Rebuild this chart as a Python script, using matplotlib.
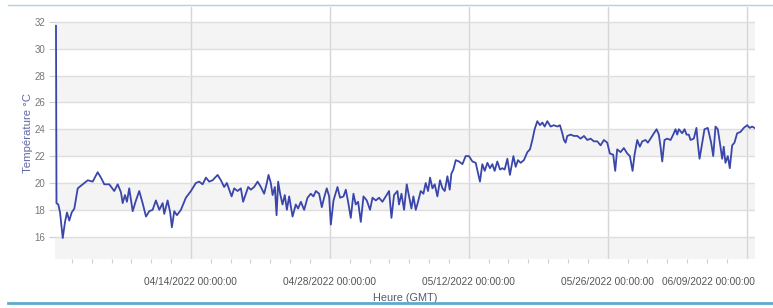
import matplotlib
matplotlib.use("Agg")
import matplotlib.pyplot as plt
import matplotlib.dates as mdates
import matplotlib.transforms as mtransforms
import datetime as dt

plt.rcParams['font.family'] = ['Liberation Sans', 'DejaVu Sans']

# ---- data ----
start = dt.datetime(2022, 3, 31)
days = [0.40, 0.45, 0.63, 0.81, 1.08, 1.31, 1.51, 1.74, 1.98, 2.25, 2.59, 3.09, 3.60, 4.10, 4.60, 4.93,
        5.27, 5.77, 6.27, 6.62, 6.95, 7.12, 7.35, 7.55, 7.78, 8.13, 8.46, 8.79, 9.13, 9.47, 9.80,
        10.14, 10.47, 10.81, 11.15, 11.31, 11.65, 11.91, 12.08, 12.32, 12.59, 12.99, 13.49, 14.00,
        14.50, 14.83, 15.18, 15.51, 15.84, 16.18, 16.69, 17.02, 17.35, 17.62, 17.86, 18.10, 18.36,
        18.70, 19.03, 19.26, 19.54, 19.77, 20.04, 20.37, 20.72, 21.05, 21.38, 21.65, 21.82, 22.05,
        22.23, 22.46, 22.63, 22.79, 22.99, 23.23, 23.46, 23.67, 23.90, 24.24, 24.57, 24.80, 25.08,
        25.41, 25.75, 26.08, 26.35, 26.59, 26.92, 27.19, 27.42, 27.69, 27.93, 28.10, 28.37, 28.77,
        29.03, 29.38, 29.61, 29.84, 30.11, 30.38, 30.61, 30.85, 31.12, 31.39, 31.72, 32.05, 32.30,
        32.63, 32.96, 33.30, 33.64, 33.97, 34.21, 34.47, 34.81, 34.97, 35.22, 35.48, 35.75, 35.98,
        36.22, 36.42, 36.66, 36.89, 37.16, 37.43, 37.66, 37.90, 38.10, 38.34, 38.57, 38.84, 39.10,
        39.35, 39.58, 39.85, 40.08, 40.25, 40.45, 40.69, 41.02, 41.36, 41.69, 42.02, 42.37, 42.70,
        43.13, 43.37, 43.61, 43.88, 44.14, 44.38, 44.61, 44.88, 45.15, 45.39, 45.62, 45.89, 46.15,
        46.50, 46.73, 46.96, 47.23, 47.56, 47.91, 48.17, 48.41, 48.64, 48.91, 49.18, 49.42, 49.65,
        49.92, 50.25, 50.58, 50.93, 51.19, 51.43, 51.59, 51.76, 51.93, 52.27, 52.60, 52.94, 53.27,
        53.61, 53.95, 54.28, 54.61, 54.95, 55.29, 55.62, 55.96, 56.22, 56.56, 56.76, 56.96, 57.30,
        57.63, 57.97, 58.24, 58.51, 58.71, 58.98, 59.24, 59.49, 59.82, 60.05, 60.32, 60.66, 60.93,
        61.16, 61.33, 61.50, 61.73, 62.00, 62.34, 62.61, 62.84, 63.01, 63.17, 63.51, 63.75, 63.95,
        64.18, 64.35, 64.68, 64.95, 65.08, 65.26, 65.53, 65.76, 66.09, 66.43, 66.64, 66.87, 67.10,
        67.37, 67.54, 67.70, 67.87, 68.11, 68.31, 68.55, 68.78, 69.05, 69.39, 69.72, 70.06, 70.32,
        70.56, 70.79]
temps = [31.7, 18.5, 18.4, 17.8, 15.9, 17.1, 17.8, 17.2, 17.8, 18.1, 19.6, 19.9, 20.2, 20.1, 20.8, 20.4,
         19.9, 19.9, 19.4, 19.9, 19.3, 18.5, 19.1, 18.6, 19.6, 17.9, 18.7, 19.4, 18.5, 17.5, 17.9,
         18.0, 18.7, 18.0, 18.5, 17.7, 18.7, 17.8, 16.7, 17.9, 17.6, 18.0, 18.9, 19.4,
         20.0, 20.1, 19.9, 20.4, 20.1, 20.2, 20.6, 20.2, 19.7, 20.0, 19.5, 19.0, 19.6,
         19.4, 19.6, 18.6, 19.2, 19.7, 19.5, 19.7, 20.1, 19.7, 19.2, 20.0, 20.6, 20.0,
         19.1, 19.7, 17.6, 20.1, 19.2, 18.4, 19.1, 18.0, 19.0, 17.5, 18.4, 18.1, 18.6,
         18.0, 18.9, 19.2, 19.0, 19.4, 19.2, 18.2, 18.9, 19.6, 19.0, 16.9, 18.7, 19.7,
         18.9, 19.0, 19.5, 18.6, 17.4, 19.2, 18.4, 18.6, 17.1, 19.0, 18.7, 18.0, 18.9,
         18.7, 18.9, 18.6, 19.0, 19.4, 17.4, 19.1, 19.4, 18.4, 19.2, 18.0, 19.9, 19.0,
         18.1, 19.0, 18.0, 18.6, 19.4, 19.2, 20.0, 19.4, 20.4, 19.6, 19.9, 19.0, 20.2,
         19.6, 19.4, 20.5, 19.5, 20.7, 21.0, 21.7, 21.6, 21.4, 22.0, 22.0, 21.6, 21.5,
         20.1, 21.4, 20.9, 21.5, 21.1, 21.4, 20.9, 21.6, 21.0, 21.1, 21.0, 21.8, 20.6,
         22.0, 21.2, 21.7, 21.5, 21.7, 22.3, 22.5, 23.2, 24.0, 24.6, 24.3, 24.5, 24.2,
         24.6, 24.2, 24.3, 24.2, 24.3, 23.7, 23.2, 23.0, 23.5, 23.6, 23.5, 23.5, 23.3,
         23.5, 23.2, 23.3, 23.1, 23.1, 22.8, 23.2, 23.0, 22.2, 22.1, 20.9, 22.5, 22.3,
         22.6, 22.2, 22.0, 20.9, 22.1, 23.2, 22.7, 23.1, 23.2, 23.0, 23.3, 23.7, 24.0,
         23.6, 22.7, 21.6, 23.2, 23.3, 23.2, 23.6, 24.0, 23.6, 24.0, 23.7, 24.0, 23.6,
         23.6, 23.2, 23.3, 24.1, 23.0, 21.8, 23.0, 24.0, 24.1, 23.0, 22.0, 24.2, 24.0,
         22.7, 21.8, 22.7, 21.5, 22.0, 21.1, 22.8, 23.0, 23.7, 23.8, 24.1, 24.3, 24.1,
         24.2, 24.1]
y_ticks = [16, 18, 20, 22, 24, 26, 28, 30, 32]
x_major = ["2022-04-14", "2022-04-28", "2022-05-12", "2022-05-26", "2022-06-09"]
x_label = "Heure (GMT)"
y_label = "Température °C"

times = [start + dt.timedelta(days=d) for d in days]

fig = plt.figure(figsize=(7.73, 3.08), dpi=100)
ax = fig.add_axes([55/773, 1-259/308, 700/773, 252/308])

xmin = start + dt.timedelta(days=0.30)
xmax = start + dt.timedelta(days=70.85)
ymin, ymax = 14.34, 33.1
ax.set_xlim(xmin, xmax)
ax.set_ylim(ymin, ymax)

# alternating bands
bounds = [ymin] + y_ticks + [ymax]
for i in range(len(bounds) - 1):
    if i % 2 == 0:
        ax.axhspan(bounds[i], bounds[i+1], color="#f4f4f4", zorder=0, lw=0)

ax.plot(times, temps, color="#3a46aa", lw=1.3, zorder=3)

ax.set_yticks(y_ticks)
ax.yaxis.grid(True, color="#dedede", lw=1.0, zorder=1)
majors = [dt.datetime.strptime(s, "%Y-%m-%d") for s in x_major]
ax.set_xticks(majors)
ax.xaxis.set_major_formatter(mdates.DateFormatter("%m/%d/%Y %H:%M:%S"))
minor = [majors[0] + dt.timedelta(days=k) for k in range(-12, 58, 2)]
ax.set_xticks(minor, minor=True)
ax.xaxis.grid(True, which="major", color="#d6d6d6", lw=1.0, zorder=1)
ax.set_axisbelow(True)

ax.tick_params(axis="x", which="major", length=0, pad=13, labelsize=7.3, labelcolor="#555555")
ax.tick_params(axis="x", which="minor", length=3, color="#cfcfcf", width=0.8)
ax.tick_params(axis="y", length=4, color="#cfcfcf", labelsize=7, labelcolor="#777777", pad=3)

for s in ax.spines.values():
    s.set_visible(False)

# last label pushed inside plot area (right aligned)
fig.canvas.draw()
last = ax.get_xticklabels()[-1]
last.set_horizontalalignment("right")
last.set_transform(last.get_transform() + mtransforms.ScaledTranslation(8/100, 0, fig.dpi_scale_trans))

ax.set_xlabel(x_label, fontsize=7.8, color="#555a70", labelpad=4)
ax.set_ylabel(y_label, fontsize=8.2, color="#6068a8", labelpad=1)

# screenshot frame lines
fig.add_artist(plt.Line2D([8/773, 1], [1-5/308, 1-5/308], color="#a9d3ea", lw=1.0))
fig.add_artist(plt.Line2D([8/773, 1], [1-303/308, 1-303/308], color="#5ea9cc", lw=2.0))

fig.savefig("out.png", dpi=100, facecolor="white")
